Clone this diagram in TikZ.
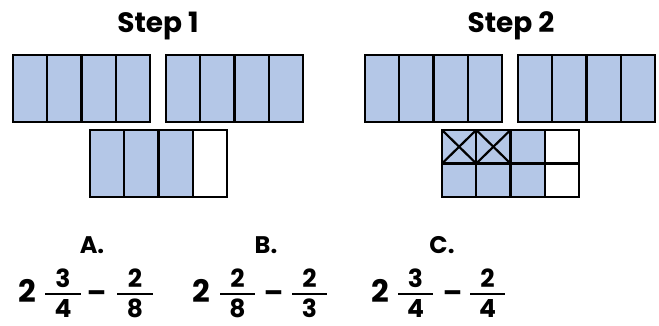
\documentclass[tikz,border=0pt]{standalone}
\usepackage{fontspec}
\setmainfont{Poppins}
\definecolor{cellblue}{HTML}{B4C7E7}
\tikzset{
  cell/.style={draw=black, line width=2.2pt, fill=cellblue},
  emptycell/.style={draw=black, line width=2.2pt, fill=white},
  title/.style={anchor=base, font=\fontsize{28}{30}\selectfont\bfseries, inner sep=0pt},
  letter/.style={anchor=base, font=\fontsize{24}{26}\selectfont\bfseries, inner sep=0pt},
  whole/.style={anchor=base, font=\fontsize{31}{34}\selectfont\bfseries, inner sep=0pt},
  digit/.style={anchor=base, font=\fontsize{25}{28}\selectfont\bfseries, inner sep=0pt},
  minus/.style={font=\fontsize{28}{30}\selectfont\bfseries, inner sep=0pt},
  bar/.style={line width=2.4pt}
}
\begin{document}
\begin{tikzpicture}[x=1pt,y=-1pt]
\useasboundingbox (0,0) rectangle (659,325);
% titles
\node[title] (s1) at (158,32) {Step 1};
\node[title] (s2) at (511,32) {Step 2};
% whole boxes
\foreach \bx/\nm in {13/a,166/b,365/c,518/d}{
  \foreach \i in {0,...,3}{
    \draw[cell] ({\bx+\i*34.25},55) rectangle ({\bx+(\i+1)*34.25},122);
  }
}
% Step 1 partial box
\foreach \i in {0,1,2}{
  \draw[cell] ({90+\i*34.25},130) rectangle ({90+(\i+1)*34.25},197);
}
\draw[emptycell] ({90+3*34.25},130) rectangle ({90+4*34.25},197);
% Step 2 partial box (eighths)
\foreach \i in {0,1,2}{
  \draw[cell] ({442+\i*34.25},130) rectangle ({442+(\i+1)*34.25},163.5);
  \draw[cell] ({442+\i*34.25},163.5) rectangle ({442+(\i+1)*34.25},197);
}
\draw[emptycell] ({442+3*34.25},130) rectangle ({442+4*34.25},163.5);
\draw[emptycell] ({442+3*34.25},163.5) rectangle ({442+4*34.25},197);
% crosses
\foreach \i in {0,1}{
  \draw[line width=2.2pt] ({442+\i*34.25},130) -- ({442+(\i+1)*34.25},163.5);
  \draw[line width=2.2pt] ({442+\i*34.25},163.5) -- ({442+(\i+1)*34.25},130);
}
% option letters
\node[letter] (la) at (92,253) {A.};
\node[letter] (lb) at (266,253) {B.};
\node[letter] (lc) at (442,253) {C.};
% A
\node[whole] (wa) at (27,302) {2};
\node[digit] (na1) at (63,287) {3};
\node[digit] (da1) at (63,317) {4};
\draw[bar] (45,294) -- (81,294);
\node[minus] (ma) at (96.5,297) {–};
\node[digit] (na2) at (135,287) {2};
\node[digit] (da2) at (135,317) {8};
\draw[bar] (117,294) -- (153,294);
% B
\node[whole] (wb) at (201.5,302) {2};
\node[digit] (nb1) at (237.5,287) {2};
\node[digit] (db1) at (237.5,317) {8};
\draw[bar] (220,294) -- (255,294);
\node[minus] (mb) at (273.5,297) {–};
\node[digit] (nb2) at (309.5,287) {2};
\node[digit] (db2) at (309.5,317) {3};
\draw[bar] (292,294) -- (327,294);
% C
\node[whole] (wc) at (380,302) {2};
\node[digit] (nc1) at (415.5,287) {3};
\node[digit] (dc1) at (415.5,317) {4};
\draw[bar] (398,294) -- (433,294);
\node[minus] (mc) at (452.5,297) {–};
\node[digit] (nc2) at (487.5,287) {2};
\node[digit] (dc2) at (487.5,317) {4};
\draw[bar] (470,294) -- (505,294);
\end{tikzpicture}
\end{document}
